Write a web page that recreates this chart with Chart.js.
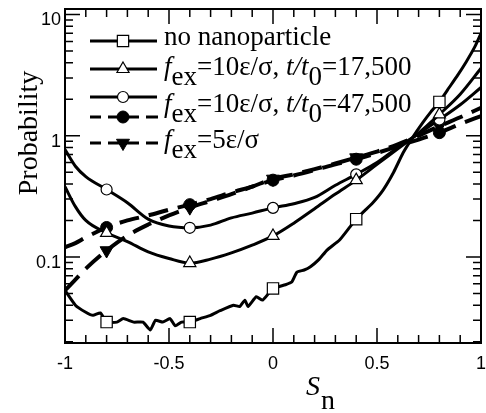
<!DOCTYPE html>
<html lang="en">
<head>
<meta charset="UTF-8">
<title>Probability vs S_n</title>
<script src="https://cdn.jsdelivr.net/npm/chart.js@4.4.1/dist/chart.umd.min.js"></script>
<style>
  html, body { margin: 0; padding: 0; background: #fff; }
  canvas { display: block; }
</style>
</head>
<body>
<canvas id="probChart" width="486" height="413"></canvas>
<script>
  // marker positions along S_n (every curve gets a symbol here)
  const markerSn = [-0.8, -0.4, 0, 0.4, 0.8];

  // no nanoparticle (noisy curve)
  const snNoNano = [-1, -0.95, -0.9, -0.865, -0.83, -0.8, -0.75, -0.72, -0.67, -0.625, -0.59, -0.565,
    -0.53, -0.495, -0.47, -0.44, -0.4, -0.35, -0.3, -0.255, -0.19, -0.16, -0.135, -0.12, -0.08, -0.05,
    0, 0.06, 0.09, 0.115, 0.15, 0.18, 0.22, 0.26, 0.32, 0.37, 0.4, 0.44, 0.48, 0.53, 0.58, 0.625, 0.67,
    0.72, 0.76, 0.8, 0.84, 0.885, 0.93, 0.97, 1];
  const probNoNano = [0.053, 0.040, 0.035, 0.033, 0.0345, 0.029, 0.029, 0.031, 0.029, 0.029, 0.025, 0.030,
    0.029, 0.031, 0.027, 0.029, 0.029, 0.031, 0.033, 0.036, 0.040, 0.039, 0.044, 0.039, 0.047, 0.044,
    0.055, 0.059, 0.062, 0.075, 0.078, 0.083, 0.095, 0.114, 0.138, 0.177, 0.205, 0.24, 0.28, 0.358, 0.5, 0.72, 0.96,
    1.28, 1.58, 1.9, 2.4, 3.1, 4.1, 5.4, 7.0];

  // smooth curves share one S_n grid
  const snGrid = [-1, -0.95, -0.9, -0.8, -0.7, -0.6, -0.5, -0.4, -0.3, -0.2, -0.1,
    0, 0.1, 0.2, 0.3, 0.4, 0.5, 0.6, 0.7, 0.8, 0.9, 1];
  const prob10_17500 = [0.38, 0.26, 0.2, 0.158, 0.134, 0.11, 0.097, 0.089, 0.096, 0.108, 0.125,
    0.149, 0.19, 0.25, 0.33, 0.43, 0.58, 0.78, 1.05, 1.5, 2.2, 3.6];
  const prob10_47500 = [0.77, 0.56, 0.46, 0.36, 0.28, 0.205, 0.18, 0.174, 0.183, 0.21, 0.23,
    0.254, 0.275, 0.31, 0.39, 0.48, 0.6, 0.8, 1.04, 1.36, 1.8, 2.5];
  const prob10_47500b = [0.12, 0.13, 0.145, 0.175, 0.2, 0.22, 0.245, 0.27, 0.3, 0.34, 0.38,
    0.43, 0.47, 0.52, 0.58, 0.64, 0.72, 0.82, 0.93, 1.06, 1.25, 1.45];
  const prob5 = [0.053, 0.065, 0.08, 0.113, 0.15, 0.185, 0.22, 0.255, 0.29, 0.33, 0.38,
    0.44, 0.48, 0.53, 0.59, 0.66, 0.74, 0.85, 1.0, 1.2, 1.42, 1.7];

  const xTicks = [-1, -0.5, 0, 0.5, 1];
  const yTicks = [0.1, 1, 10];

  const serif = '"Liberation Serif", "Times New Roman", serif';
  const sans = '"Liberation Sans", Arial, sans-serif';

  function pts(xs, ys) {
    return xs.map((x, i) => ({ x: x, y: ys[i] }));
  }
  function markerRadius(r) {
    return c => (c.raw && markerSn.some(m => Math.abs(m - c.raw.x) < 1e-6)) ? r : 0;
  }

  const seriesStyle = [
    { style: 'rect', r: 8, fill: '#fff', rot: 0, dash: [], bw: 1.2 },
    { style: 'triangle', r: 7, fill: '#fff', rot: 0, dash: [], bw: 1.2 },
    { style: 'circle', r: 5.5, fill: '#fff', rot: 0, dash: [], bw: 1.2 },
    { style: 'circle', r: 6, fill: '#000', rot: 0, dash: [20, 10], bw: 1 },
    { style: 'triangle', r: 7.5, fill: '#000', rot: 180, dash: [20, 10], bw: 1 }
  ];

  function makeSet(label, data, s, lineWidth, smooth) {
    return {
      label: label,
      data: data,
      borderColor: '#000',
      borderWidth: lineWidth,
      borderDash: s.dash,
      tension: smooth ? 0.4 : 0.15,
      cubicInterpolationMode: smooth ? 'monotone' : 'default',
      pointStyle: s.style,
      pointRotation: s.rot,
      pointRadius: markerRadius(s.r),
      pointBackgroundColor: s.fill,
      pointBorderColor: '#000',
      pointBorderWidth: s.bw
    };
  }

  // legend rows: text parts are [text, italic?, baseline shift]
  const legendRows = [
    { lineY: 41, textY: 45, s: 0, parts: [['no nanoparticle', false, 0]] },
    { lineY: 69, textY: 75, s: 1, parts: [['f', true, 0], ['ex', false, 10], ['=10\u03b5/\u03c3, ', false, 0],
      ['t/t', true, 0], ['0', false, 10], ['=17,500', false, 0]] },
    { lineY: 97, textY: 112, s: 2, parts: [['f', true, 0], ['ex', false, 10], ['=10\u03b5/\u03c3, ', false, 0],
      ['t/t', true, 0], ['0', false, 10], ['=47,500', false, 0]] },
    { lineY: 117, textY: null, s: 3, parts: [] },
    { lineY: 143, textY: 148, s: 4, parts: [['f', true, 0], ['ex', false, 10], ['=5\u03b5/\u03c3', false, 0]] }
  ];

  const framePlugin = {
    id: 'frame',
    afterDatasetsDraw(chart) {
      const { ctx, chartArea: a, scales } = chart;
      const x = scales.x, y = scales.y;
      ctx.save();
      ctx.strokeStyle = '#000';

      // inward tick marks on all four sides
      ctx.lineWidth = 1.5;
      ctx.beginPath();
      for (let i = -10; i <= 10; i++) {
        const px = x.getPixelForValue(i / 10);
        const len = i % 5 === 0 ? 15 : 8;
        ctx.moveTo(px, a.bottom); ctx.lineTo(px, a.bottom - len);
        ctx.moveTo(px, a.top); ctx.lineTo(px, a.top + len);
      }
      [0.01, 0.1, 1, 10].forEach(dec => {
        for (let m = 1; m <= 9; m++) {
          const v = m * dec;
          if (v < y.min || v > y.max) continue;
          const py = y.getPixelForValue(v);
          const len = m === 1 ? 15 : 8;
          ctx.moveTo(a.left, py); ctx.lineTo(a.left + len, py);
          ctx.moveTo(a.right, py); ctx.lineTo(a.right - len, py);
        }
      });
      ctx.stroke();

      ctx.lineWidth = 2;
      ctx.strokeRect(a.left, a.top, a.right - a.left, a.bottom - a.top);

      // axis titles
      ctx.fillStyle = '#000';
      ctx.textBaseline = 'alphabetic';
      ctx.save();
      ctx.translate(37, 133);
      ctx.rotate(-Math.PI / 2);
      ctx.textAlign = 'center';
      ctx.font = '28px ' + serif;
      ctx.fillText('Probability', 0, 0);
      ctx.restore();

      ctx.textAlign = 'left';
      ctx.font = 'italic 28px ' + serif;
      ctx.fillText('S', 306, 395);
      const sw = ctx.measureText('S').width;
      ctx.font = '28px ' + serif;
      ctx.fillText('n', 306 + sw + 1, 409);

      // legend
      legendRows.forEach(row => {
        const s = seriesStyle[row.s];
        ctx.lineWidth = 3;
        ctx.setLineDash([]);
        ctx.beginPath();
        if (s.dash.length) {
          ctx.moveTo(90, row.lineY); ctx.lineTo(101, row.lineY);
          ctx.moveTo(108, row.lineY); ctx.lineTo(139, row.lineY);
          ctx.moveTo(146, row.lineY); ctx.lineTo(158, row.lineY);
        } else {
          ctx.moveTo(90, row.lineY); ctx.lineTo(157, row.lineY);
        }
        ctx.stroke();
        ctx.fillStyle = s.fill;
        ctx.lineWidth = s.bw;
        Chart.helpers.drawPoint(ctx, { pointStyle: s.style, radius: s.r, rotation: s.rot, borderWidth: s.bw }, 123, row.lineY);

        if (row.textY !== null) {
          ctx.fillStyle = '#000';
          let tx = 164;
          row.parts.forEach(p => {
            ctx.font = (p[1] ? 'italic ' : '') + '27px ' + serif;
            ctx.fillText(p[0], tx, row.textY + p[2]);
            tx += ctx.measureText(p[0]).width;
          });
        }
      });
      ctx.restore();
    }
  };

  new Chart(document.getElementById('probChart'), {
    type: 'line',
    data: {
      datasets: [
        makeSet('no nanoparticle', pts(snNoNano, probNoNano), seriesStyle[0], 3, false),
        makeSet('f_ex=10, t/t0=17,500', pts(snGrid, prob10_17500), seriesStyle[1], 3, true),
        makeSet('f_ex=10, t/t0=47,500', pts(snGrid, prob10_47500), seriesStyle[2], 3, true),
        makeSet('f_ex=10, t/t0=47,500 (dashed)', pts(snGrid, prob10_47500b), seriesStyle[3], 4, true),
        makeSet('f_ex=5', pts(snGrid, prob5), seriesStyle[4], 4, true)
      ]
    },
    options: {
      responsive: false,
      animation: false,
      events: [],
      layout: { padding: { top: 9, right: 5, left: 0, bottom: 0 } },
      plugins: { legend: { display: false }, tooltip: { enabled: false } },
      scales: {
        x: {
          type: 'linear',
          min: -1,
          max: 1,
          grid: { display: false, drawTicks: false },
          border: { display: false },
          afterBuildTicks: s => { s.ticks = xTicks.map(v => ({ value: v })); },
          afterFit: s => { s.height = 70; s.paddingLeft = 0; s.paddingRight = 0; },
          ticks: {
            padding: 10,
            color: '#000',
            font: { family: sans, size: 18 },
            maxRotation: 0,
            callback: v => String(v)
          }
        },
        y: {
          type: 'logarithmic',
          min: 0.0195,
          max: 11.1,
          grid: { display: false, drawTicks: false },
          border: { display: false },
          afterBuildTicks: s => { s.ticks = yTicks.map(v => ({ value: v })); },
          afterFit: s => { s.width = 65; s.paddingTop = 0; s.paddingBottom = 0; },
          ticks: {
            padding: 4,
            labelOffset: 6,
            color: '#000',
            font: { family: sans, size: 18 },
            callback: v => String(v)
          }
        }
      }
    },
    plugins: [framePlugin]
  });
</script>
</body>
</html>
